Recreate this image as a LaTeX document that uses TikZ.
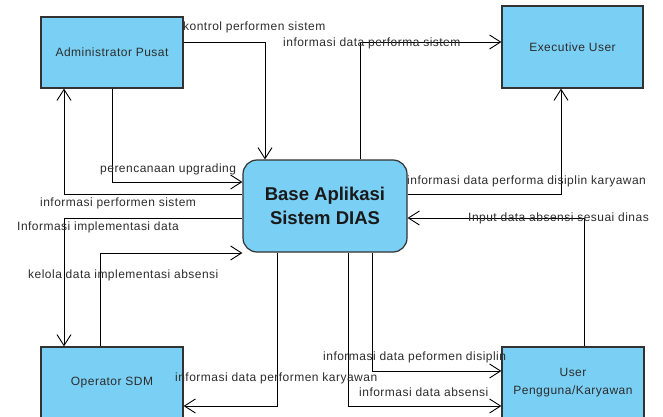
\documentclass[tikz,border=0pt]{standalone}
\usepackage{fontspec}
\setmainfont{Liberation Sans}
\usetikzlibrary{arrows.meta}
\definecolor{boxfill}{RGB}{122,207,244}
\definecolor{boxborder}{RGB}{50,50,50}
\definecolor{txt}{RGB}{45,45,45}
\newcommand\dfdfont{\fontsize{12}{14}\selectfont\addfontfeature{LetterSpace=4}}
\begin{document}
\begin{tikzpicture}[x=1pt,y=-1pt,
  entity/.style={draw=boxborder, line width=1.2pt, fill=boxfill, inner sep=0pt,
    font=\dfdfont, text=txt, align=center},
  flow/.style={draw=black, line width=0.9pt,
    -{Straight Barb[length=11pt,width=14pt,line width=0.9pt]}},
  lab/.style={font=\dfdfont, text=txt, anchor=west, inner sep=0pt}]
\useasboundingbox (0,0) rectangle (663,417);
\clip (0,0) rectangle (663,417);
\fill[white] (0,0) rectangle (663,417);

% entities
\node[entity, minimum width=142pt, minimum height=71pt] (admin) at (112,52.5) {Administrator Pusat};
\node[entity, minimum width=141pt, minimum height=82pt] (exec) at (572.5,47) {Executive User};
\node[entity, rounded corners=14pt, minimum width=164pt, minimum height=92pt,
  font=\bfseries\fontsize{18.5}{24.5}\selectfont, text=black!90] (base) at (325,206) {Base Aplikasi\\Sistem DIAS};
\node[entity, minimum width=142pt, minimum height=72pt] (op) at (112,383) {Operator SDM};
\node[entity, minimum width=142pt, minimum height=72pt,
  font=\fontsize{12}{18}\selectfont\addfontfeature{LetterSpace=4}] (user) at (573,383) {User\\Pengguna/Karyawan};

% flows
\draw[flow] (admin.east |- 0,42) -| (base.north -| 265,0);
\draw[flow] (base.north -| 360,0) |- (exec.west |- 0,42);
\draw[flow] (base.east |- 0,194) -| (exec.south -| 561,0);
\draw[flow] (user.north -| 584,0) |- (base.east |- 0,218);
\draw[flow] (base.south -| 277,0) |- (op.east |- 0,406);
\draw[flow] (base.south -| 348,0) |- (user.west |- 0,406);
\draw[flow] (base.south -| 372,0) |- (user.west |- 0,371);
\draw[flow] (admin.south -| 112,0) |- (base.west |- 0,182);
\draw[flow] (base.west |- 0,194) -| (admin.south -| 64,0);
\draw[flow] (base.west |- 0,218) -| (op.north -| 64,0);
\draw[flow] (op.north -| 100,0) |- (base.west |- 0,253);

% labels
\node[lab] (l1) at (183,27) {kontrol performen sistem};
\node[lab] (l2) at (283,43) {informasi data performa sistem};
\node[lab] (l3) at (100,169) {perencanaan upgrading};
\node[lab] (l4) at (40,203) {informasi performen sistem};
\node[lab] (l5) at (17,227) {Informasi implementasi data};
\node[lab] (l6) at (28,275) {kelola data implementasi absensi};
\node[lab] (l7) at (407,181) {informasi data performa disiplin karyawan};
\node[lab] (l8) at (468,218) {Input data absensi sesuai dinas};
\node[lab] (l9) at (323,357) {informasi data peformen disiplin};
\node[lab] (l10) at (175,378) {informasi data performen karyawan};
\node[lab] (l11) at (359,392) {informasi data absensi};
\end{tikzpicture}
\end{document}
